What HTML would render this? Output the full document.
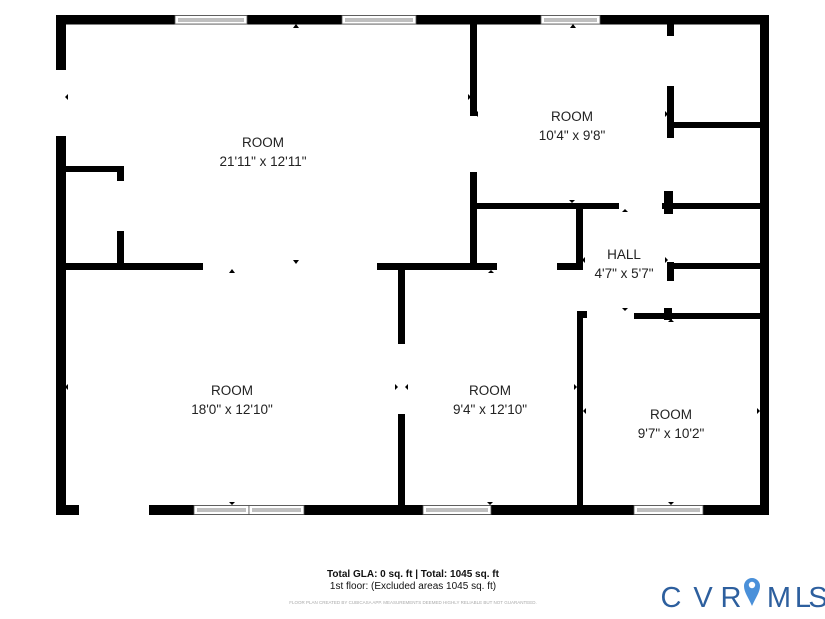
<!DOCTYPE html>
<html><head><meta charset="utf-8"><style>
body{margin:0;width:825px;height:619px;background:#fff;overflow:hidden;font-family:"Liberation Sans",sans-serif}
</style></head><body>
<svg width="825" height="619" viewBox="0 0 825 619" xmlns="http://www.w3.org/2000/svg" style="position:absolute;left:0;top:0">
<g fill="#000">
<rect x="56" y="15" width="713" height="9.5"/>
<rect x="56" y="15" width="10" height="55"/>
<rect x="56" y="136" width="10" height="379"/>
<rect x="56" y="505" width="23" height="10"/>
<rect x="149" y="505" width="620" height="10"/>
<rect x="760" y="15" width="9" height="500"/>
<rect x="470" y="24" width="7" height="92"/>
<rect x="470" y="172" width="7" height="95"/>
<rect x="66" y="166" width="58" height="6"/>
<rect x="117" y="166" width="7" height="15"/>
<rect x="117" y="231" width="7" height="36"/>
<rect x="66" y="263" width="137" height="7"/>
<rect x="377" y="263" width="120" height="7"/>
<rect x="557" y="263" width="26" height="7"/>
<rect x="398" y="263" width="7" height="81"/>
<rect x="398" y="414" width="7" height="91"/>
<rect x="476" y="203" width="143" height="6"/>
<rect x="662" y="203" width="98" height="6"/>
<rect x="664" y="191" width="9" height="23"/>
<rect x="667" y="24" width="7" height="12"/>
<rect x="667" y="86" width="7" height="52"/>
<rect x="674" y="122" width="86" height="6"/>
<rect x="674" y="263" width="86" height="6"/>
<rect x="667" y="262" width="7" height="19"/>
<rect x="634" y="313" width="126" height="6"/>
<rect x="664" y="308" width="8" height="12"/>
<rect x="576" y="209" width="7" height="61"/>
<rect x="577" y="311" width="6" height="194"/>
<rect x="577" y="311" width="10" height="7"/>
</g>
<g fill="#fff" stroke="#555" stroke-width="0.8">
<rect x="175" y="15.5" width="72" height="8.5"/><line x1="178" y1="19" x2="244" y2="19"/><line x1="178" y1="21" x2="244" y2="21"/>
<rect x="342" y="15.5" width="74" height="8.5"/><line x1="345" y1="19" x2="413" y2="19"/><line x1="345" y1="21" x2="413" y2="21"/>
<rect x="541" y="15.5" width="59" height="8.5"/><line x1="544" y1="19" x2="597" y2="19"/><line x1="544" y1="21" x2="597" y2="21"/>
<rect x="194" y="505.5" width="55" height="9"/><line x1="197" y1="509" x2="246" y2="509"/><line x1="197" y1="511" x2="246" y2="511"/>
<rect x="249" y="505.5" width="55" height="9"/><line x1="252" y1="509" x2="301" y2="509"/><line x1="252" y1="511" x2="301" y2="511"/>
<rect x="423" y="505.5" width="68" height="9"/><line x1="426" y1="509" x2="488" y2="509"/><line x1="426" y1="511" x2="488" y2="511"/>
<rect x="634" y="505.5" width="69" height="9"/><line x1="637" y1="509" x2="700" y2="509"/><line x1="637" y1="511" x2="700" y2="511"/>
</g>
<g fill="#000">
<path d="M293 28l3-4 3 4z"/><path d="M293 260l3 4 3-4z"/><path d="M229 273l3-4 3 4z"/>
<path d="M68 94l-3 3 3 3z"/><path d="M468 94l3 3-3 3z"/><path d="M478 111l-3 3 3 3z"/>
<path d="M570 28l3-4 3 4z"/><path d="M569 200l3 3 3-3z"/><path d="M622 212l3-3 3 3z"/>
<path d="M665 111l3 3-3 3z"/><path d="M585 257l-3 3 3 3z"/><path d="M665 257l3 3-3 3z"/>
<path d="M622 308l3 3 3-3z"/><path d="M488 273l3-3 3 3z"/><path d="M668 322l3-3 3 3z"/>
<path d="M68 384l-3 3 3 3z"/><path d="M395 384l3 3-3 3z"/><path d="M408 384l-3 3 3 3z"/>
<path d="M574 384l3 3-3 3z"/><path d="M586 408l-3 3 3 3z"/><path d="M757 408l3 3-3 3z"/>
<path d="M229 502l3 3 3-3z"/><path d="M487 502l3 3 3-3z"/><path d="M668 502l3 3 3-3z"/>
</g>
<g font-family="Liberation Sans, sans-serif" font-size="13.5" fill="#222" text-anchor="middle">
<text x="263" y="147">ROOM</text><text x="263" y="166">21'11" x 12'11"</text>
<text x="572" y="121">ROOM</text><text x="572" y="140">10'4" x 9'8"</text>
<text x="624" y="259">HALL</text><text x="624" y="278">4'7" x 5'7"</text>
<text x="232" y="395">ROOM</text><text x="232" y="414">18'0" x 12'10"</text>
<text x="490" y="395">ROOM</text><text x="490" y="414">9'4" x 12'10"</text>
<text x="671" y="419">ROOM</text><text x="671" y="438">9'7" x 10'2"</text>
</g>
<g font-family="Liberation Sans, sans-serif" text-anchor="middle" fill="#111">
<text x="413" y="577" font-size="10" font-weight="bold">Total GLA: 0 sq. ft | Total: 1045 sq. ft</text>
<text x="413" y="589" font-size="10">1st floor: (Excluded areas 1045 sq. ft)</text>
<text x="413" y="604" font-size="4.5" fill="#aaa">FLOOR PLAN CREATED BY CUBICASA APP. MEASUREMENTS DEEMED HIGHLY RELIABLE BUT NOT GUARANTEED.</text>
</g>
<g font-family="Liberation Sans, sans-serif" font-size="29" fill="#2d5f9e" text-anchor="middle">
<text x="671" y="607">C</text>
<text x="703" y="607">V</text>
<text x="731" y="607">R</text>
<text x="779" y="607">M</text>
<text x="803" y="607">L</text>
<text x="818" y="607">S</text>
</g>
<g transform="translate(752,584)"><path d="M0 22 C-4 13 -8 8 -8 2 A8 8 0 0 1 8 2 C8 8 4 13 0 22z" fill="#4a90d9"/><circle cx="0" cy="1" r="3.2" fill="#fff"/></g>
</svg>
</body></html>
